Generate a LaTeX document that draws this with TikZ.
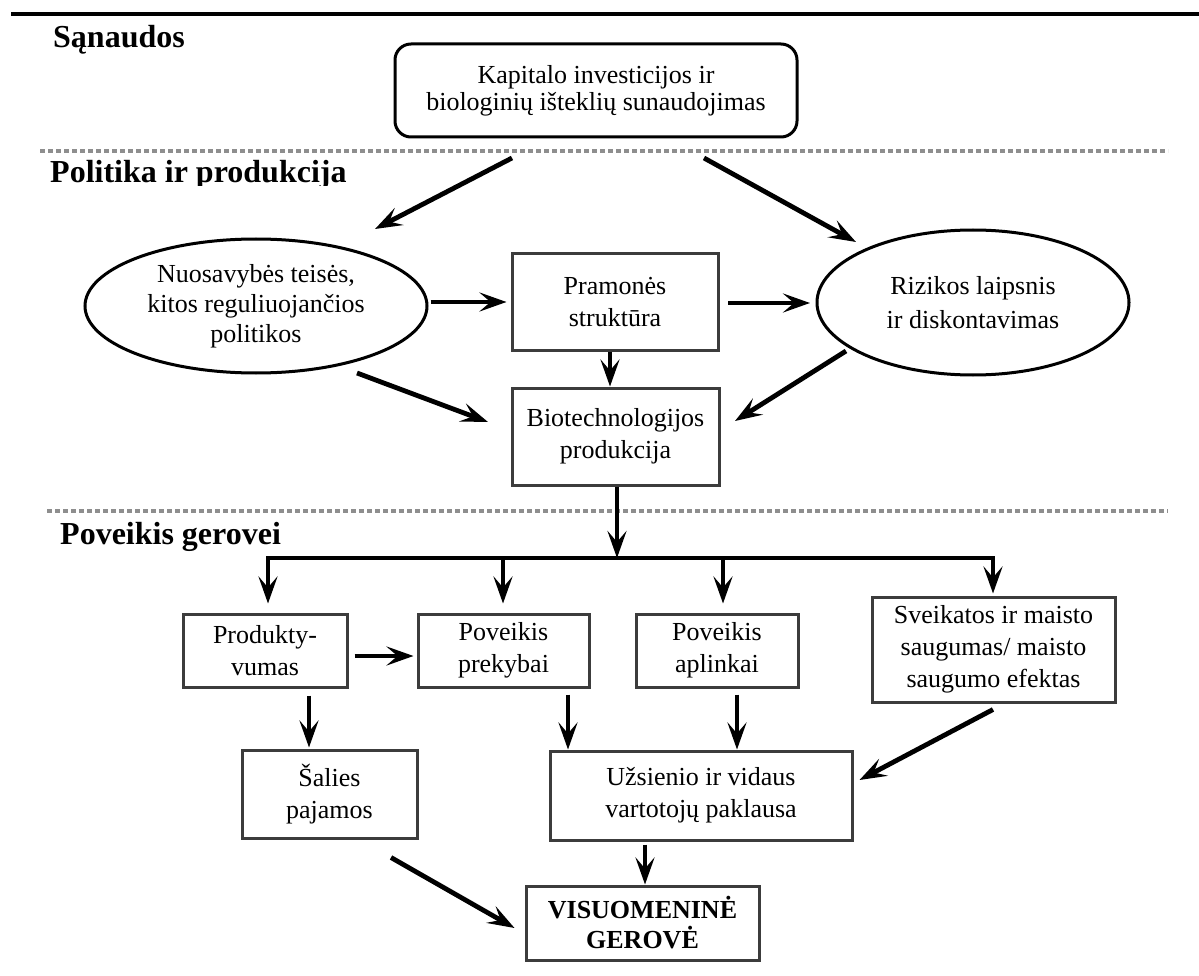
\documentclass[tikz,border=0pt]{standalone}
\usepackage{fontspec}
\setmainfont{Liberation Serif}
\usetikzlibrary{arrows.meta,shapes.geometric,calc}
\definecolor{framegray}{HTML}{3C3C3C}
\definecolor{rulegray}{HTML}{8E8E8E}
\tikzset{
  body/.style={font=\fontsize{26}{32}\selectfont},
  box/.style={body, draw=framegray, line width=3pt, rectangle, inner sep=0pt, align=center},
  topbox/.style={draw=black, line width=3pt, rectangle, rounded corners=16pt, inner sep=0pt,
    align=center, font=\fontsize{26}{27}\selectfont},
  oval/.style={draw=black, line width=3pt, ellipse, inner sep=0pt},
  ovaltext/.style={align=center, inner sep=0pt},
  arr/.style={line width=4.8pt, -{Stealth[length=27pt,width=19pt,inset=11pt]}},
  heading/.style={font=\fontsize{32}{38}\selectfont\bfseries, anchor=base west, inner sep=0pt},
  sepline/.style={draw=rulegray, line width=4.5pt, dash pattern=on 5pt off 3pt},
}
\begin{document}
\begin{tikzpicture}[x=1pt,y=-1pt]
\useasboundingbox (0,0) rectangle (1199,976);

% rules between the three stages
\draw[line width=4pt] (11,14) -- (1199,14);
\draw[sepline] (40,151) -- (1168,151);
\draw[sepline] (47,511) -- (1168,511);

% stage headings
\node[heading] (hin) at (53,48) {Sąnaudos};
\begin{scope}
  \clip (0,160) rectangle (1199,185.5);
  \node[heading] (hpol) at (50,183) {Politika ir produkcija};
\end{scope}
\node[heading] (hout) at (60,544) {Poveikis gerovei};

% inputs
\node[topbox, minimum width=402pt, minimum height=93pt] (kap) at (596,90.5)
  {Kapitalo investicijos ir\\biologinių išteklių sunaudojimas};

% policy and production
\node[oval, minimum width=342pt, minimum height=134pt] (nuos) at (256,306) {};
\node[ovaltext, font=\fontsize{26}{30}\selectfont] (nuostxt) at (256,306)
  {Nuosavybės teisės,\\kitos reguliuojančios\\politikos};
\node[oval, minimum width=312pt, minimum height=145pt] (rizik) at (973,302.5) {};
\node[ovaltext, font=\fontsize{26}{34}\selectfont] (riziktxt) at (973,302.5)
  {Rizikos laipsnis\\ir diskontavimas};
\node[box, minimum width=206pt, minimum height=96pt] (pram) at (615,302)
  {Pramonės\\struktūra};
\node[box, minimum width=207pt, minimum height=97pt] (bio) at (615.5,436.5)
  {Biotechnologijos\\produkcija};

% welfare effects
\node[box, minimum width=164pt, minimum height=73pt] (prod) at (265,650.5)
  {Produkty-\\vumas};
\node[box, minimum width=171pt, minimum height=73pt] (prek) at (503.5,650.5)
  {Poveikis\\prekybai};
\node[box, minimum width=162pt, minimum height=73pt] (apl) at (717,650.5)
  {Poveikis\\aplinkai};
\node[box, minimum width=243pt, minimum height=105pt] (sveik) at (993.5,649.5)
  {Sveikatos ir maisto\\saugumas/ maisto\\saugumo efektas};
\node[box, minimum width=175pt, minimum height=88pt] (salies) at (329.5,794)
  {Šalies\\pajamos};
\node[box, minimum width=302pt, minimum height=89pt] (uzs) at (701,795.5)
  {Užsienio ir vidaus\\vartotojų paklausa};
\node[box, minimum width=233pt, minimum height=74pt, font=\fontsize{26}{30}\selectfont\bfseries]
  (vis) at (642.5,923) {VISUOMENINĖ\\GEROVĖ};

% connectors in the upper part
\draw[arr] ([shift={(-84,67.5)}]kap.center) -- ([shift={(119,-77)}]nuos.center);
\draw[arr] ([shift={(108,67.5)}]kap.center) -- ([shift={(-117,-60.5)}]rizik.center);
\draw[arr] ([shift={(2,-4)}]nuos.east) -- ([shift={(-4,0)}]pram.west);
\draw[arr] ([shift={(113,1)}]pram.center) -- ([shift={(-163,0.5)}]rizik.center);
\draw[arr] ([xshift=-5pt]pram.south) -- ([xshift=-5.5pt]bio.north);
\draw[arr] ([shift={(101,67)}]nuos.center) -- ([shift={(-127.5,-14.5)}]bio.center);
\draw[arr] ([shift={(-127,48.5)}]rizik.center) -- ([shift={(119.5,-15.5)}]bio.center);

% distribution line below the production box
\coordinate (split) at (617,558);
\coordinate (d1) at (268,558);
\coordinate (d2) at (503,558);
\coordinate (d3) at (723,558);
\coordinate (d4) at (993,558);
\draw[arr] ([xshift=1.5pt]bio.south) -- (split);
\draw[line width=4pt, line cap=rect] (d1) -- (d4);
\draw[arr, shorten >=9pt] (d1) -- (d1 |- prod.north);
\draw[arr, shorten >=9pt] (d2) -- (d2 |- prek.north);
\draw[arr, shorten >=9pt] (d3) -- (d3 |- apl.north);
\draw[arr, shorten >=2pt] (d4) -- (d4 |- sveik.north);

% connectors in the lower part
\draw[arr] ([shift={(6,5.5)}]prod.east) -- ([shift={(-3,5.5)}]prek.west);
\draw[arr] ([shift={(44,7)}]prod.south) -- ([shift={(-20.5,-1)}]salies.north);
\draw[arr] ([shift={(64.5,6)}]prek.south) -- ([shift={(-133,0)}]uzs.north);
\draw[arr] ([shift={(20,6)}]apl.south) -- ([shift={(36,0)}]uzs.north);
\draw[arr] ([shift={(-0.5,6)}]sveik.south) -- ([shift={(6,-15.5)}]uzs.east);
\draw[arr] ([shift={(-56,3)}]uzs.south) -- ([shift={(2.5,0)}]vis.north);
\draw[arr] ([shift={(61.5,18)}]salies.south) -- ([shift={(-10,5)}]vis.west);
\end{tikzpicture}
\end{document}
